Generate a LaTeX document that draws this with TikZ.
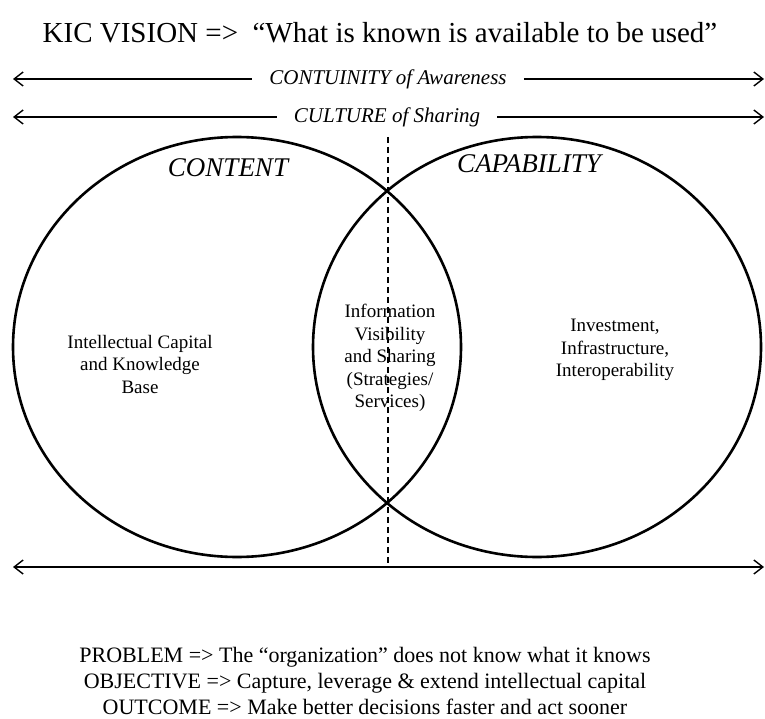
\documentclass[tikz,border=0pt]{standalone}
\usepackage{fontspec}
\setmainfont{Liberation Serif}
\usetikzlibrary{shapes.geometric,arrows.meta}

\tikzset{
  set/.style={draw,ellipse,line width=2.6pt,minimum width=448pt,minimum height=420pt},
  body/.style={align=center,font=\fontsize{19}{22.5}\selectfont},
  band/.style={font=\fontsize{21}{24}\selectfont\itshape,inner xsep=17pt},
  span/.style={<->,line width=1.4pt,>={Straight Barb[length=9pt,width=14pt,line width=1.4pt]}},
}

\begin{document}
\begin{tikzpicture}[x=1pt,y=-1pt]
  \useasboundingbox (0,0) rectangle (765,719);
  \node (title) at (380,33) {\fontsize{29}{32}\selectfont KIC VISION =>\ \ “What is known is available to be used”};
  % top bands
  \node[band] (aware) at (388,79) {CONTUINITY of Awareness};
  \node[band] (share) at (387,117) {CULTURE of Sharing};
  \coordinate (awareL) at (13,79);
  \coordinate (awareR) at (764,79);
  \coordinate (shareL) at (13,117);
  \coordinate (shareR) at (764,117);
  \draw[span,<-] (awareL) -- (aware);
  \draw[span,->] (aware) -- (awareR);
  \draw[span,<-] (shareL) -- (share);
  \draw[span,->] (share) -- (shareR);
  % the two sets
  \node[set] (content) at (237,347) {};
  \node[set] (capability) at (537,347) {};
  \node (contentT) at (228,168) {\fontsize{27}{30}\selectfont\itshape CONTENT};
  \node (capabilityT) at (529,164) {\fontsize{27}{30}\selectfont\itshape CAPABILITY};
  \node[body] (ic) at (140,364) {Intellectual Capital\\and Knowledge\\Base};
  \node[body] (info) at (390,358) {Information\\Visibility\\and Sharing\\(Strategies/\\Services)};
  \node[body] (invest) at (615,350) {Investment,\\Infrastructure,\\Interoperability};
  % divider and bottom span
  \coordinate (divT) at (388,137);
  \coordinate (divB) at (388,567);
  \draw[dash pattern=on 6pt off 4pt,line width=1.4pt] (divT) -- (divB);
  \coordinate (baseL) at (13,567);
  \coordinate (baseR) at (764,567);
  \draw[span] (baseL) -- (baseR);
  \node[align=center,font=\fontsize{22}{26}\selectfont] (goals) at (365,681)
    {PROBLEM => The “organization” does not know what it knows\\
     OBJECTIVE => Capture, leverage \& extend intellectual capital\\
     OUTCOME => Make better decisions faster and act sooner};
\end{tikzpicture}
\end{document}
